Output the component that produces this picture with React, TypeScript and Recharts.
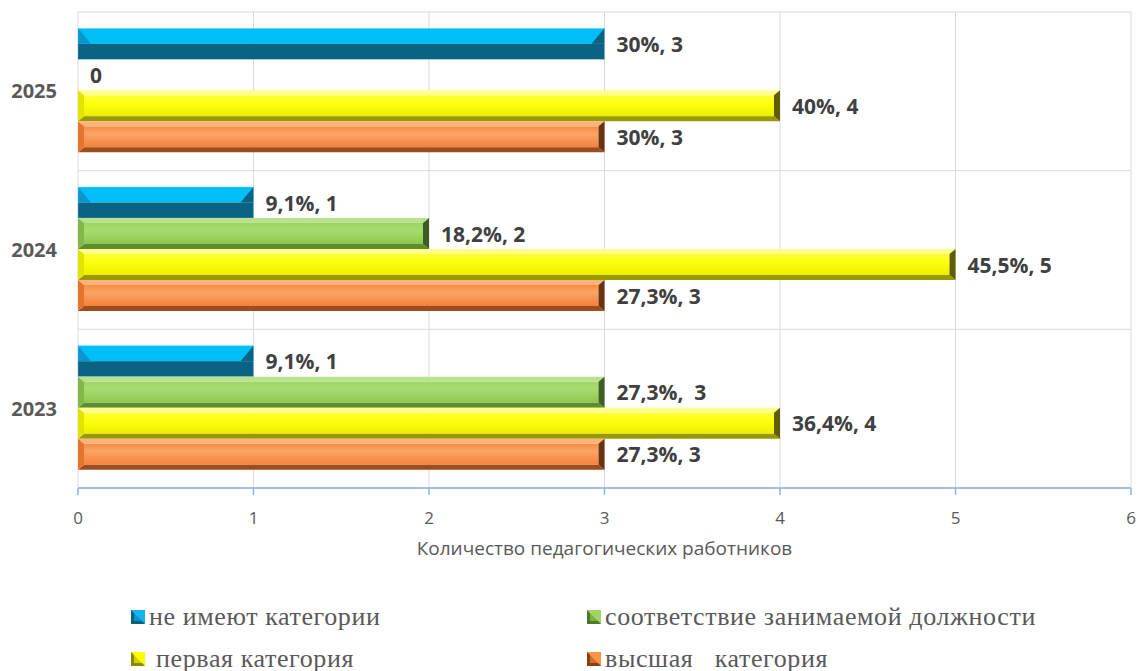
import React from 'react';
import { BarChart, Bar, XAxis, YAxis, CartesianGrid, LabelList } from 'recharts';

const years = ['2025', '2024', '2023'];
const noCategory = [3, 1, 1];
const conformity = [0, 2, 3];
const firstCategory = [4, 5, 4];
const highestCategory = [3, 3, 3];
const noCategoryLabels = ['30%, 3', '9,1%, 1', '9,1%, 1'];
const conformityLabels = ['0', '18,2%, 2', '27,3%,  3'];
const firstCategoryLabels = ['40%, 4', '45,5%, 5', '36,4%, 4'];
const highestCategoryLabels = ['30%, 3', '27,3%, 3', '27,3%, 3'];
const xTicks = [0, 1, 2, 3, 4, 5, 6];
const seriesNames = ['не имеют категории', 'соответствие занимаемой должности', ' первая категория', 'высшая   категория'];

const data = years.map((y, i) => ({
  year: y,
  a: noCategory[i],
  b: conformity[i],
  c: firstCategory[i],
  d: highestCategory[i],
  aL: noCategoryLabels[i],
  bL: conformityLabels[i],
  cL: firstCategoryLabels[i],
  dL: highestCategoryLabels[i],
}));

type Pal = { id: string; top: string; bottom: string; left: string; right: string; face: [string, string, string] };

const pals: Record<string, Pal> = {
  green: { id: 'gG', top: '#B8E28E', bottom: '#5E8C33', left: '#80B94A', right: '#3E5E22', face: ['#9ED663', '#A8DC70', '#8CC84C'] },
  yellow: { id: 'gY', top: '#FFFF8A', bottom: '#9A9A00', left: '#E3E300', right: '#5E5E00', face: ['#FFFF3A', '#FFFF10', '#EDED00'] },
  orange: { id: 'gO', top: '#FDB27C', bottom: '#9E4E1E', left: '#E4742E', right: '#6A3210', face: ['#F88C40', '#FBA466', '#F3823A'] },
};

const BlueShape = (props: any) => {
  const { x, y, width: w, height: h } = props;
  if (!w || w <= 0) return null;
  const bx = Math.min(13, w / 2);
  const m = y + h / 2;
  return (
    <g>
      <rect x={x} y={y} width={w} height={h / 2} fill="#00BEF8" />
      <rect x={x} y={m} width={w} height={h / 2} fill="#0B6384" />
      <polygon points={`${x},${y} ${x + bx},${m} ${x},${m}`} fill="#0A95CC" />
      <polygon points={`${x + w},${y} ${x + w - bx},${m} ${x + w},${m}`} fill="#0B6384" />
      <rect x={x} y={y} width={w} height={h} fill="none" stroke="#7FD6F0" strokeWidth={0.6} strokeOpacity={0.6} />
    </g>
  );
};

const makeShape = (p: Pal) => (props: any) => {
  const { x, y, width: w, height: h } = props;
  if (!w || w <= 0) return null;
  const bx = Math.min(6, w / 2);
  const by = 5;
  return (
    <g>
      <rect x={x + bx} y={y + by} width={Math.max(0, w - 2 * bx)} height={h - 2 * by} fill={`url(#${p.id})`} />
      <polygon points={`${x},${y} ${x + w},${y} ${x + w - bx},${y + by} ${x + bx},${y + by}`} fill={p.top} />
      <polygon points={`${x},${y + h} ${x + w},${y + h} ${x + w - bx},${y + h - by} ${x + bx},${y + h - by}`} fill={p.bottom} />
      <polygon points={`${x},${y} ${x + bx},${y + by} ${x + bx},${y + h - by} ${x},${y + h}`} fill={p.left} />
      <polygon points={`${x + w},${y} ${x + w - bx},${y + by} ${x + w - bx},${y + h - by} ${x + w},${y + h}`} fill={p.right} />
    </g>
  );
};

const GreenShape = makeShape(pals.green);
const YellowShape = makeShape(pals.yellow);
const OrangeShape = makeShape(pals.orange);

const labelStyle = { fontFamily: '"Open Sans", sans-serif', fontWeight: 700, fontSize: 21, fill: '#404040', whiteSpace: 'pre' as const };

const ValueLabel = (props: any) => {
  const { x, y, width, height, value } = props;
  return (
    <text x={x + width + 12} y={y + height / 2} dominantBaseline="central" xmlSpace="preserve" style={labelStyle}>
      {value}
    </text>
  );
};

const Marker = ({ color1, color2 }: { color1: string; color2: string }) => (
  <svg width={14} height={14} style={{ display: 'inline-block', verticalAlign: 'middle', marginRight: 4 }}>
    <rect x={0} y={0} width={14} height={14} fill={color2} />
    <polygon points="0,0 14,0 14,14" fill={color1} />
    <rect x={3} y={3} width={8} height={8} fill={color1} opacity={0.6} />
  </svg>
);

const legendItems = [
  { name: seriesNames[0], c1: '#10B6EC', c2: '#0B6384', left: 131, top: 605 },
  { name: seriesNames[1], c1: '#9ED663', c2: '#4E7A28', left: 587, top: 605 },
  { name: seriesNames[2], c1: '#FFFF00', c2: '#8A8A00', left: 131, top: 647 },
  { name: seriesNames[3], c1: '#F79646', c2: '#8A3E12', left: 587, top: 647 },
];

const gridH = (props: any) => {
  const { offset } = props;
  const out: number[] = [];
  for (let i = 0; i <= years.length; i++) out.push(offset.top + (offset.height * i) / years.length);
  return out;
};

export default function App() {
  return (
    <div style={{ position: 'absolute', left: 0, top: 0, width: 1138, height: 671, background: '#fff' }}>
      <BarChart
        width={1138}
        height={671}
        data={data}
        layout="vertical"
        margin={{ top: 12, right: 7, left: 0, bottom: 116 }}
        barCategoryGap="10.3%"
        barGap={0}
      >
        <defs>
          {Object.values(pals).map((p) => (
            <linearGradient key={p.id} id={p.id} x1="0" y1="0" x2="0" y2="1">
              <stop offset="0%" stopColor={p.face[0]} />
              <stop offset="35%" stopColor={p.face[1]} />
              <stop offset="100%" stopColor={p.face[2]} />
            </linearGradient>
          ))}
        </defs>
        <CartesianGrid stroke="#D9D9D9" horizontalCoordinatesGenerator={gridH} />
        <XAxis
          type="number"
          domain={[0, 6]}
          ticks={xTicks}
          interval={0}
          height={67}
          axisLine={{ stroke: '#8DB3E2', strokeWidth: 1.5 }}
          tickLine={{ stroke: '#8DB3E2', strokeWidth: 1.5 }}
          tickSize={7}
          tickMargin={17}
          tick={{ fontFamily: '"Open Sans", sans-serif', fontSize: 17, fill: '#595959' }}
          label={{
            value: 'Количество педагогических работников',
            position: 'insideBottom',
            offset: 0,
            style: { fontFamily: '"Open Sans", sans-serif', fontSize: 19, fill: '#595959' },
          }}
        />
        <YAxis
          type="category"
          dataKey="year"
          width={78}
          axisLine={false}
          tickLine={false}
          tickSize={0}
          tickMargin={21}
          tick={{ fontFamily: '"Open Sans", sans-serif', fontSize: 20, fontWeight: 700, fill: '#595959' }}
        />
        <Bar dataKey="a" name={seriesNames[0]} shape={BlueShape} isAnimationActive={false}>
          <LabelList dataKey="aL" content={ValueLabel} />
        </Bar>
        <Bar dataKey="b" name={seriesNames[1]} shape={GreenShape} isAnimationActive={false}>
          <LabelList dataKey="bL" content={ValueLabel} />
        </Bar>
        <Bar dataKey="c" name={seriesNames[2]} shape={YellowShape} isAnimationActive={false}>
          <LabelList dataKey="cL" content={ValueLabel} />
        </Bar>
        <Bar dataKey="d" name={seriesNames[3]} shape={OrangeShape} isAnimationActive={false}>
          <LabelList dataKey="dL" content={ValueLabel} />
        </Bar>
      </BarChart>
      {legendItems.map((it) => (
        <div
          key={it.name}
          style={{
            position: 'absolute',
            left: it.left,
            top: it.top,
            height: 24,
            lineHeight: '24px',
            whiteSpace: 'pre',
            fontFamily: '"Liberation Serif", "Times New Roman", serif',
            fontSize: 26,
            letterSpacing: 0.6,
            color: '#595959',
            display: 'flex',
            alignItems: 'center',
          }}
        >
          <Marker color1={it.c1} color2={it.c2} />
          <span>{it.name}</span>
        </div>
      ))}
    </div>
  );
}
